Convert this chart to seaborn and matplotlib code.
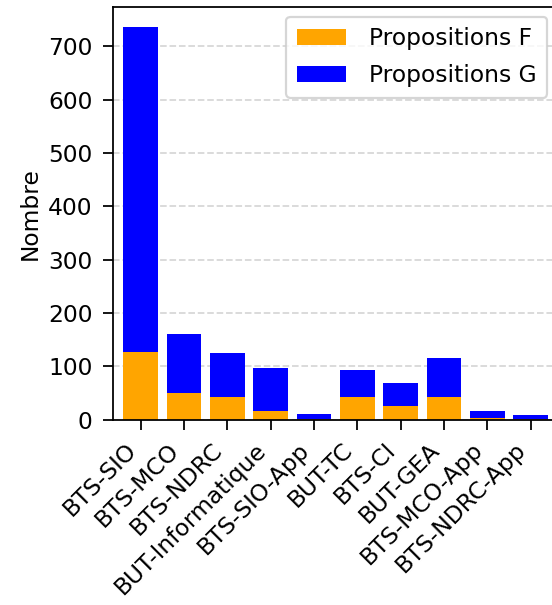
import numpy as np
import pandas as pd
import matplotlib
matplotlib.use("Agg")
import matplotlib.pyplot as plt
import seaborn as sns

# donnees
formations = ['BTS-SIO', 'BTS-MCO', 'BTS-NDRC', 'BUT-Informatique', 'BTS-SIO-App',
              'BUT-TC', 'BTS-CI', 'BUT-GEA', 'BTS-MCO-App', 'BTS-NDRC-App']
propositions_f = [127, 50, 42, 16, 1, 43, 26, 42, 2, 1]
propositions_g = [610, 111, 82, 80, 10, 50, 42, 74, 14, 8]

df = pd.DataFrame({'formation': formations, 'F': propositions_f, 'G': propositions_g})
df['total'] = df['F'] + df['G']

plt.rcParams['font.size'] = 10.5
plt.rcParams['xtick.major.size'] = 4.5
plt.rcParams['ytick.major.size'] = 4.5
plt.rcParams['xtick.major.pad'] = 4
plt.rcParams['ytick.major.pad'] = 4.5
fig = plt.figure(figsize=(552 / 160, 605 / 160), dpi=160)
ax = fig.add_axes([0.204, 0.3066, 0.8085, 0.682])

# barres empilees : total en bleu, puis F par-dessus en orange
sns.barplot(x='formation', y='total', data=df, color='blue', saturation=1,
            linewidth=0, label='Propositions G', ax=ax)
sns.barplot(x='formation', y='F', data=df, color='orange', saturation=1,
            linewidth=0, label='Propositions F', ax=ax)

ax.set_xlim(-0.65, 9.65)
ax.set_ylim(0, df['total'].max() * 1.05)
ax.set_xlabel('')
ax.set_ylabel('Nombre', labelpad=3)
ax.yaxis.grid(True, linestyle='--', color='lightgray', alpha=0.9)
ax.set_axisbelow(True)
plt.xticks(rotation=45, ha='right')

handles, labels = ax.get_legend_handles_labels()
ax.legend(handles[::-1], labels[::-1], loc='upper right', borderpad=0.45,
          handletextpad=1.0, labelspacing=0.6, handlelength=2.1,
          bbox_to_anchor=(559 / 552, 1 - 5 / 605), bbox_transform=fig.transFigure)

plt.savefig('out.png', dpi=160)
